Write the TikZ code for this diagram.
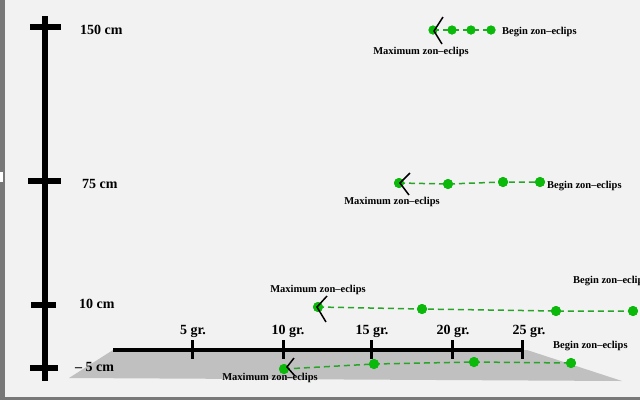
\documentclass[tikz,border=0pt]{standalone}
\usepackage{fontspec}
\setmainfont{Liberation Serif}
\definecolor{bgcol}{RGB}{242,242,242}
\definecolor{framegray}{RGB}{120,120,120}
\definecolor{floorgray}{RGB}{192,192,192}
\definecolor{dotgreen}{RGB}{10,185,10}
\definecolor{linegreen}{RGB}{40,165,40}
\begin{document}
\begin{tikzpicture}[x=1pt,y=-1pt,
  axisline/.style={line width=6pt},
  vtick/.style={line width=6pt},
  hline/.style={line width=4pt},
  htick/.style={line width=3pt},
  biglabel/.style={font=\fontsize{14}{16}\selectfont\bfseries, inner sep=0pt},
  smalllabel/.style={font=\fontsize{10.5}{12}\selectfont\bfseries, inner sep=0pt},
  gdot/.style={circle, fill=dotgreen, inner sep=0pt, minimum size=10pt},
  gdotsmall/.style={circle, fill=dotgreen, inner sep=0pt, minimum size=9pt},
  gdash/.style={draw=linegreen, line width=1.5pt, dash pattern=on 6pt off 4pt},
  chev/.style={draw=black, line width=1.5pt}
]
\useasboundingbox (0,0) rectangle (640,400);
\clip (0,0) rectangle (640,400);
\fill[bgcol] (0,0) rectangle (640,400);
% frame artefacts
\fill[framegray] (0,0) rectangle (5,400);
\fill[white] (0,172) rectangle (3,182);
\fill[framegray] (0,397) rectangle (640,400);

% floor
\fill[floorgray] (69,378) -- (113,350) -- (527,350) -- (622,381) -- cycle;

% vertical axis
\coordinate (vtop) at (45,16);
\coordinate (vbot) at (45,381);
\draw[axisline] (vtop) -- (vbot);
\coordinate (t150l) at (30,27); \coordinate (t150r) at (61,27);
\coordinate (t75l) at (28,181); \coordinate (t75r) at (61,181);
\coordinate (t10l) at (31,305); \coordinate (t10r) at (56,305);
\coordinate (t5l) at (30,368); \coordinate (t5r) at (58,368);
\draw[vtick] (t150l) -- (t150r);
\draw[vtick] (t75l) -- (t75r);
\draw[vtick] (t10l) -- (t10r);
\draw[vtick] (t5l) -- (t5r);
\node[biglabel, anchor=west] (l150) at (80,30) {150 cm};
\node[biglabel, anchor=west] (l75) at (82,184) {75 cm};
\node[biglabel, anchor=west] (l10) at (79,304) {10 cm};
\node[biglabel, anchor=west] (l5) at (75,367) {\textendash{} 5 cm};

% horizontal axis
\coordinate (hl) at (113,350);
\coordinate (hr) at (524,350);
\draw[hline] (hl) -- (hr);
\foreach \x/\n in {192/a,283/b,371/c,452/d,522/e}{
  \coordinate (ht\n t) at (\x,340);
  \coordinate (ht\n b) at (\x,359);
  \draw[htick] (ht\n t) -- (ht\n b);
}
\node[biglabel] (g5) at (193,331) {5 gr.};
\node[biglabel] (g10) at (288,331) {10 gr.};
\node[biglabel] (g15) at (372,331) {15 gr.};
\node[biglabel] (g20) at (453,331) {20 gr.};
\node[biglabel] (g25) at (529,331) {25 gr.};

% series 150 cm
\node[gdotsmall] (s1a) at (433,30) {};
\node[gdotsmall] (s1b) at (452,30) {};
\node[gdotsmall] (s1c) at (471,30) {};
\node[gdotsmall] (s1d) at (491,30) {};
\draw[gdash] (s1a.center) -- (s1b.center) -- (s1c.center) -- (s1d.center);
\foreach \n in {s1a,s1b,s1c,s1d}{\node[gdotsmall] at (\n) {};}
\coordinate (c1t) at (443,17); \coordinate (c1m) at (434,31); \coordinate (c1b) at (442,44);
\draw[chev] (c1t) -- (c1m) -- (c1b);
\node[smalllabel, anchor=west] (b1) at (502,32) {Begin zon\textendash eclips};
\node[smalllabel] (m1) at (421,52) {Maximum zon\textendash eclips};

% series 75 cm
\node[gdot] (s2a) at (399,183) {};
\node[gdot] (s2b) at (448,184) {};
\node[gdot] (s2c) at (503,182) {};
\node[gdot] (s2d) at (540,182) {};
\draw[gdash] (s2a.center) -- (s2b.center) -- (s2c.center) -- (s2d.center);
\foreach \n in {s2a,s2b,s2c,s2d}{\node[gdot] at (\n) {};}
\coordinate (c2t) at (410,173); \coordinate (c2m) at (400,183); \coordinate (c2b) at (409,195);
\draw[chev] (c2t) -- (c2m) -- (c2b);
\node[smalllabel, anchor=west] (b2) at (547,186) {Begin zon\textendash eclips};
\node[smalllabel] (m2) at (392,202) {Maximum zon\textendash eclips};

% series 10 cm
\node[gdot] (s3a) at (318,307) {};
\node[gdot] (s3b) at (422,309) {};
\node[gdot] (s3c) at (556,311) {};
\node[gdot] (s3d) at (633,311) {};
\draw[gdash] (s3a.center) -- (s3b.center) -- (s3c.center) -- (s3d.center);
\foreach \n in {s3a,s3b,s3c,s3d}{\node[gdot] at (\n) {};}
\coordinate (c3t) at (327,296); \coordinate (c3m) at (317,307); \coordinate (c3b) at (326,322);
\draw[chev] (c3t) -- (c3m) -- (c3b);
\node[smalllabel, anchor=west] (b3) at (573,281) {Begin zon\textendash eclips};
\node[smalllabel] (m3) at (318,290) {Maximum zon\textendash eclips};

% series -5 cm
\node[gdot] (s4a) at (284,369) {};
\node[gdot] (s4b) at (374,364) {};
\node[gdot] (s4c) at (474,362) {};
\node[gdot] (s4d) at (571,363) {};
\draw[gdash] (s4a.center) -- (s4b.center) -- (s4c.center) -- (s4d.center);
\foreach \n in {s4a,s4b,s4c,s4d}{\node[gdot] at (\n) {};}
\coordinate (c4t) at (294,358); \coordinate (c4m) at (287,367); \coordinate (c4b) at (295,376);
\draw[chev] (c4t) -- (c4m) -- (c4b);
\node[smalllabel, anchor=west] (b4) at (553,346) {Begin zon\textendash eclips};
\node[smalllabel] (m4) at (270,378) {Maximum zon\textendash eclips};
\end{tikzpicture}
\end{document}
